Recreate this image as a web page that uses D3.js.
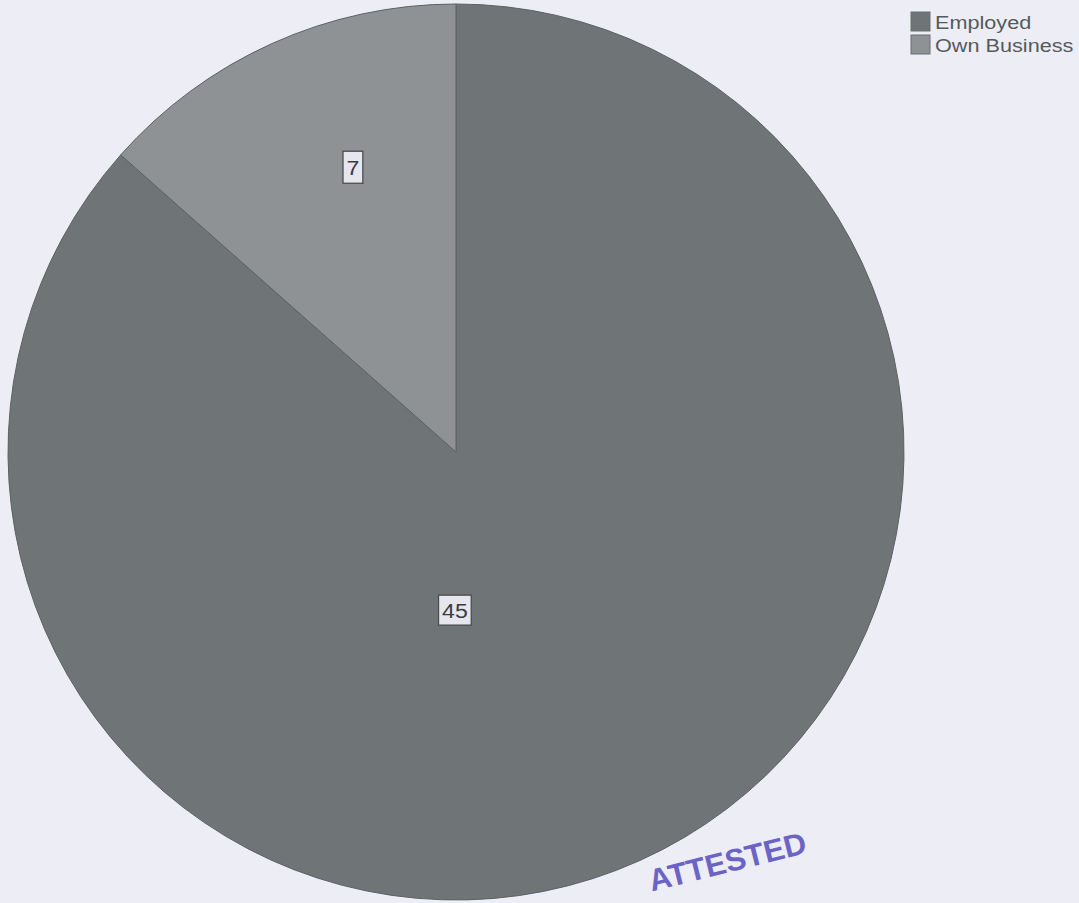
<!DOCTYPE html>
<html>
<head>
<meta charset="utf-8">
<script src="https://cdn.jsdelivr.net/npm/d3@7"></script>
<style>
  html, body { margin: 0; padding: 0; background: #edeef5; }
  svg { display: block; }
</style>
</head>
<body>
<svg id="chart" width="1079" height="903"></svg>
<script>
// ---- data ----
const categories = ["Employed", "Own Business"];
const values = [45, 7];
const colors = ["#6f7577", "#8e9294"];
// label anchor within each slice: angle (deg, clockwise from 12 o'clock) and radius fraction
const labelAngles = [180.4, 340.1];
const labelRadii = [0.353, 0.676];
const stampText = "ATTESTED";

const W = 1079, H = 903;
const svg = d3.select("#chart");
svg.append("rect").attr("width", W).attr("height", H).attr("fill", "#edeef5");

const cx = 456, cy = 452, R = 448;
const g = svg.append("g").attr("transform", `translate(${cx},${cy})`);

const pie = d3.pie().sort(null).value(d => d.v);
const data = categories.map((c, i) => ({ c, v: values[i], i }));
const arcs = pie(data);
const arc = d3.arc().innerRadius(0).outerRadius(R);

g.selectAll("path.slice").data(arcs).join("path")
  .attr("class", "slice")
  .attr("d", arc)
  .attr("fill", d => colors[d.data.i])
  .attr("stroke", "#5c6163")
  .attr("stroke-width", 1);

// value labels
const lab = g.selectAll("g.lab").data(arcs).join("g").attr("class", "lab")
  .attr("transform", d => {
    const a = labelAngles[d.data.i] * Math.PI / 180;
    const r = labelRadii[d.data.i] * R;
    return `translate(${r * Math.sin(a)},${-r * Math.cos(a)})`;
  });
lab.each(function(d) {
  const sel = d3.select(this);
  const t = sel.append("text")
    .attr("text-anchor", "middle")
    .attr("transform", "translate(0,8) scale(1.1,1)")
    .attr("font-family", "Liberation Sans, Arial, sans-serif")
    .attr("font-size", 21)
    .attr("fill", "#3a3c40")
    .text(d.data.v);
  const bb = t.node().getBBox();
  const w = Math.max(bb.width * 1.1 + 7, 19), h = d.data.i === 1 ? 32 : 30;
  sel.insert("rect", "text")
    .attr("x", -w / 2).attr("y", -h / 2)
    .attr("width", w).attr("height", h)
    .attr("fill", "#e6e7ee")
    .attr("stroke", "#4a4d50")
    .attr("stroke-width", 1.3);
});

// legend
const leg = svg.append("g").attr("transform", "translate(911,12)");
const li = leg.selectAll("g").data(categories).join("g")
  .attr("transform", (d, i) => `translate(0,${i * 23})`);
li.append("rect")
  .attr("width", 19).attr("height", 19)
  .attr("fill", (d, i) => colors[i])
  .attr("stroke", "#6a6e70").attr("stroke-width", 1);
li.append("text")
  .attr("transform", "translate(24,17) scale(1.14,1)")
  .attr("font-family", "Liberation Sans, Arial, sans-serif")
  .attr("font-size", 19)
  .attr("fill", "#555a5e")
  .text(d => d);

// stamp
svg.append("text")
  .attr("transform", "translate(730,872) rotate(-14)")
  .attr("text-anchor", "middle")
  .attr("font-family", "Liberation Sans, Arial, sans-serif")
  .attr("font-weight", "bold")
  .attr("font-size", 31)
  .attr("fill", "#6c63c6")
  .text(stampText);
</script>
</body>
</html>
